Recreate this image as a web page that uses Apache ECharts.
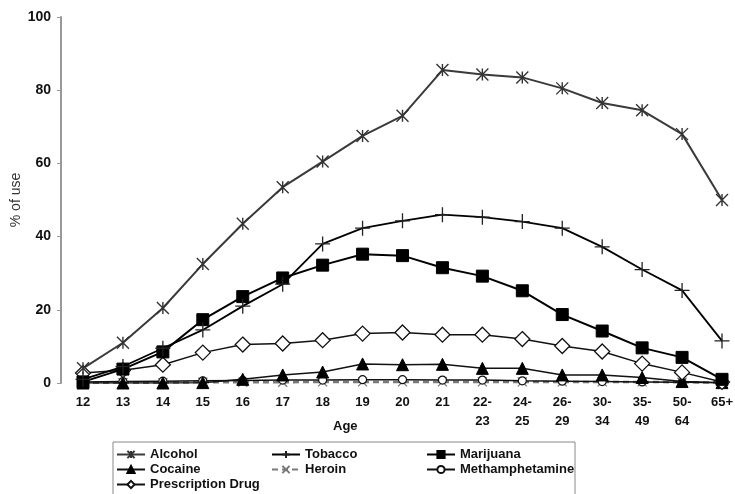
<!DOCTYPE html>
<html><head><meta charset="utf-8">
<script src="https://cdn.jsdelivr.net/npm/echarts@6/dist/echarts.min.js"></script>
<style>html,body{margin:0;padding:0;background:#fff}#c{width:735px;height:494px}</style>
</head><body><div id="c"></div>
<script>
const categories = ['12','13','14','15','16','17','18','19','20','21','22-\n23','24-\n25','26-\n29','30-\n34','35-\n49','50-\n64','65+'];
const yTicks = [0, 20, 40, 60, 80, 100];
const alcohol = [4, 11, 20.5, 32.5, 43.5, 53.5, 60.5, 67.5, 73, 85.5, 84.3, 83.5, 80.5, 76.5, 74.5, 68, 50];
const tobacco = [1, 4.5, 9.5, 14.5, 21, 27, 38, 42.3, 44.3, 46, 45.3, 44.1, 42.3, 37.2, 31, 25.3, 11.5];
const marijuana = [0.3, 3.8, 8.5, 17.3, 23.6, 28.7, 32.2, 35.2, 34.8, 31.5, 29.2, 25.2, 18.7, 14.2, 9.6, 7, 1];
const cocaine = [0, 0, 0, 0.1, 1, 2.2, 3, 5.2, 5, 5.1, 4, 4, 2.2, 2.2, 1.5, 0.4, 0.1];
const heroin = [0.1, 0.1, 0.1, 0.2, 0.2, 0.2, 0.3, 0.3, 0.3, 0.3, 0.3, 0.3, 0.3, 0.3, 0.3, 0.2, 0.1];
const meth = [0.3, 0.4, 0.5, 0.6, 0.7, 0.8, 0.8, 0.9, 0.9, 0.8, 0.8, 0.6, 0.5, 0.4, 0.3, 0.2, 0.1];
const prescription = [2.7, 3.5, 5, 8.3, 10.5, 10.8, 11.7, 13.5, 13.8, 13.2, 13.2, 12, 10.1, 8.6, 5.3, 2.9, 0.3];

const FONT = 'Liberation Sans, Arial, sans-serif';
const asterisk = 'path://M0,0L10,10M10,0L0,10M5,0L5,10';
const plus = 'path://M0,5L10,5M5,0L5,10';
const xmark = 'path://M0,0L10,10M10,0L0,10';

const chart = echarts.init(document.getElementById('c'));
function ser(name, data, opts) {
  return Object.assign({
    name, type: 'line', data, symbolSize: 10,
    animation: false
  }, opts);
}
const series = [
  ser('Heroin', heroin, {
    symbol: xmark, symbolSize: 9, z: 2,
    lineStyle: { color: '#7a7a7a', width: 2.5, type: [6, 4] },
    itemStyle: { color: '#777', borderColor: '#777', borderWidth: 1.2 }
  }),
  ser('Methamphetamine', meth, {
    symbol: 'circle', symbolSize: 8, z: 3,
    lineStyle: { color: '#111', width: 1.5 },
    itemStyle: { color: '#fff', borderColor: '#111', borderWidth: 1.2 }
  }),
  ser('Cocaine', cocaine, {
    symbol: 'triangle', symbolSize: 12, z: 4,
    lineStyle: { color: '#111', width: 1.5 },
    itemStyle: { color: '#000', borderColor: '#000', borderWidth: 1 }
  }),
  ser('Prescription Drug', prescription, {
    symbol: 'diamond', symbolSize: [15, 15], z: 5,
    lineStyle: { color: '#111', width: 1.5 },
    itemStyle: { color: '#fff', borderColor: '#111', borderWidth: 1.3 }
  }),
  ser('Marijuana', marijuana, {
    symbol: 'rect', symbolSize: 12, z: 6,
    lineStyle: { color: '#000', width: 2 },
    itemStyle: { color: '#000', borderColor: '#000', borderWidth: 1 }
  }),
  ser('Tobacco', tobacco, {
    symbol: plus, symbolSize: 15, z: 7,
    lineStyle: { color: '#000', width: 1.8 },
    itemStyle: { color: '#222', borderColor: '#222', borderWidth: 1.3 }
  }),
  ser('Alcohol', alcohol, {
    symbol: asterisk, symbolSize: 12, z: 8,
    lineStyle: { color: '#3a3a3a', width: 2 },
    itemStyle: { color: '#333', borderColor: '#333', borderWidth: 1.4 }
  })
];
const legendText = { fontFamily: FONT, fontWeight: 'bold', fontSize: 13, color: '#111' };
function legendCol(left, names) {
  return {
    orient: 'vertical', left, top: 448, itemGap: 2, itemWidth: 28, itemHeight: 9,
    textStyle: legendText, data: names, selectedMode: false, padding: 0
  };
}
chart.setOption({
  backgroundColor: '#fff',
  animation: false,
  grid: { left: 83, right: 13, top: 17, bottom: 111, containLabel: false, outerBoundsMode: 'none' },
  legend: [
    legendCol(116, ['Alcohol', 'Cocaine', 'Prescription Drug']),
    legendCol(271, ['Tobacco', 'Heroin']),
    legendCol(426, ['Marijuana', 'Methamphetamine'])
  ],
  graphic: [
    { type: 'rect', shape: { x: 113, y: 442, width: 462, height: 70 }, style: { fill: 'none', stroke: '#888', lineWidth: 1 }, z: 0 },
    { type: 'text', left: 333, top: 420, style: { text: 'Age', font: 'bold 13px ' + FONT, fill: '#111' } },
    { type: 'text', x: 16, y: 200, rotation: Math.PI / 2,
      style: { text: '% of use', font: '14px ' + FONT, fill: '#333', textAlign: 'center', textVerticalAlign: 'middle' } }
  ],
  xAxis: {
    type: 'category', data: categories, boundaryGap: false,
    axisLine: { show: false }, axisTick: { show: false },
    axisLabel: { fontFamily: FONT, fontWeight: 'bold', fontSize: 13, color: '#111', margin: 10, lineHeight: 19, interval: 0 }
  },
  yAxis: {
    type: 'value', min: 0, max: 100, interval: 20, offset: 22,
    axisLine: { show: true, lineStyle: { color: '#999', width: 2 } },
    axisTick: { show: true, length: 4, lineStyle: { color: '#999' } },
    splitLine: { show: false },
    axisLabel: { fontFamily: FONT, fontWeight: 'bold', fontSize: 14, color: '#111', margin: 10,
      formatter: v => yTicks.includes(v) ? String(v) : '' }
  },
  series
});
</script></body></html>
